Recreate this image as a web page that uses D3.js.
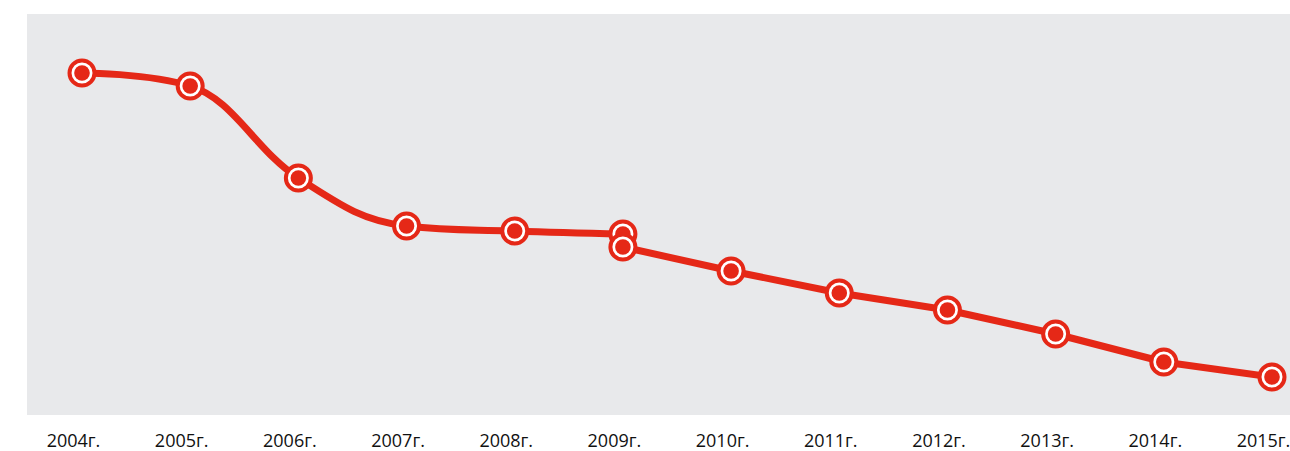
<!DOCTYPE html>
<html>
<head>
<meta charset="utf-8">
<script src="https://cdn.jsdelivr.net/npm/d3@7"></script>
<style>
  body { margin: 0; background: #fff; }
</style>
</head>
<body>
<div id="chart"></div>
<script>
// chart data
var years = ["2004г.", "2005г.", "2006г.", "2007г.", "2008г.", "2009г.",
             "2010г.", "2011г.", "2012г.", "2013г.", "2014г.", "2015г."];
var firstYears = ["2004г.", "2005г.", "2006г.", "2007г.", "2008г.", "2009г."];
var firstValues = [342, 329, 237, 189, 184, 181];
var secondYears = ["2009г.", "2010г.", "2011г.", "2012г.", "2013г.", "2014г.", "2015г."];
var secondValues = [168, 144, 122, 105, 81, 53, 38];

var svgWidth = 1290;
var svgHeight = 451;
var red = "#e52817";

var svg = d3.select("#chart")
  .append("svg")
  .attr("width", svgWidth)
  .attr("height", svgHeight);

// plot background
svg.append("rect")
  .attr("x", 27)
  .attr("y", 14)
  .attr("width", svgWidth - 27)
  .attr("height", 401)
  .attr("fill", "#e8e9eb");

var xScale = d3.scalePoint()
  .domain(years)
  .range([82, 1272]);

var yScale = d3.scaleLinear()
  .domain([0, 400])
  .range([415, 15]);

var bottomAxis = d3.axisBottom(xScale).tickSize(0).tickPadding(0);
var xAxis = svg.append("g")
  .attr("transform", "translate(0, 434)")
  .call(bottomAxis);
xAxis.select(".domain").remove();
xAxis.selectAll("text")
  .attr("dx", -9)
  .attr("dy", "0.72em")
  .attr("font-family", "'Open Sans', sans-serif")
  .attr("font-size", 18)
  .attr("fill", "#111");

// spline like the original chart: smoothed bezier with overshoot clamping
function splinePath(pts) {
  var smoothing = 1.5, denom = smoothing + 1;
  var d = "";
  pts.forEach(function(p, i) {
    var last = pts[i - 1], next = pts[i + 1];
    var leftX = p.x, leftY = p.y;
    if (last && next) {
      leftX = (smoothing * p.x + last.x) / denom;
      leftY = (smoothing * p.y + last.y) / denom;
      var rightX = (smoothing * p.x + next.x) / denom;
      var rightY = (smoothing * p.y + next.y) / denom;
      var corr = ((rightY - leftY) * (rightX - p.x)) / (rightX - leftX) + p.y - rightY;
      leftY += corr;
      rightY += corr;
      if (leftY > last.y && leftY > p.y) {
        leftY = Math.max(last.y, p.y); rightY = 2 * p.y - leftY;
      } else if (leftY < last.y && leftY < p.y) {
        leftY = Math.min(last.y, p.y); rightY = 2 * p.y - leftY;
      }
      if (rightY > next.y && rightY > p.y) {
        rightY = Math.max(next.y, p.y); leftY = 2 * p.y - rightY;
      } else if (rightY < next.y && rightY < p.y) {
        rightY = Math.min(next.y, p.y); leftY = 2 * p.y - rightY;
      }
      p.rx = rightX; p.ry = rightY;
    }
    if (i === 0) {
      d += "M" + p.x + "," + p.y;
    } else {
      d += "C" + (last.rx !== undefined ? last.rx : last.x) + "," + (last.ry !== undefined ? last.ry : last.y) +
        "," + leftX + "," + leftY + "," + p.x + "," + p.y;
    }
  });
  return d;
}

var linePath = d3.line().x(d => d.x).y(d => d.y);

var series = [
  { years: firstYears, values: firstValues, path: splinePath },
  { years: secondYears, values: secondValues, path: linePath }
];

series.forEach(function(s) {
  s.pts = s.years.map((y, i) => ({ year: y, value: s.values[i], x: xScale(y), y: yScale(s.values[i]) }));
  svg.append("path")
    .attr("d", s.path(s.pts))
    .attr("fill", "none")
    .attr("stroke", red)
    .attr("stroke-width", 7)
    .attr("stroke-linejoin", "round");
});

series.forEach(function(s) {
  var marks = svg.append("g").selectAll("g")
    .data(s.pts)
    .enter()
    .append("g")
    .attr("transform", d => "translate(" + xScale(d.year) + "," + yScale(d.value) + ")");

  marks.append("circle")
    .attr("r", 12.5)
    .attr("fill", "#fff")
    .attr("stroke", red)
    .attr("stroke-width", 4);

  marks.append("circle")
    .attr("r", 7.8)
    .attr("fill", red);
});
</script>
</body>
</html>
